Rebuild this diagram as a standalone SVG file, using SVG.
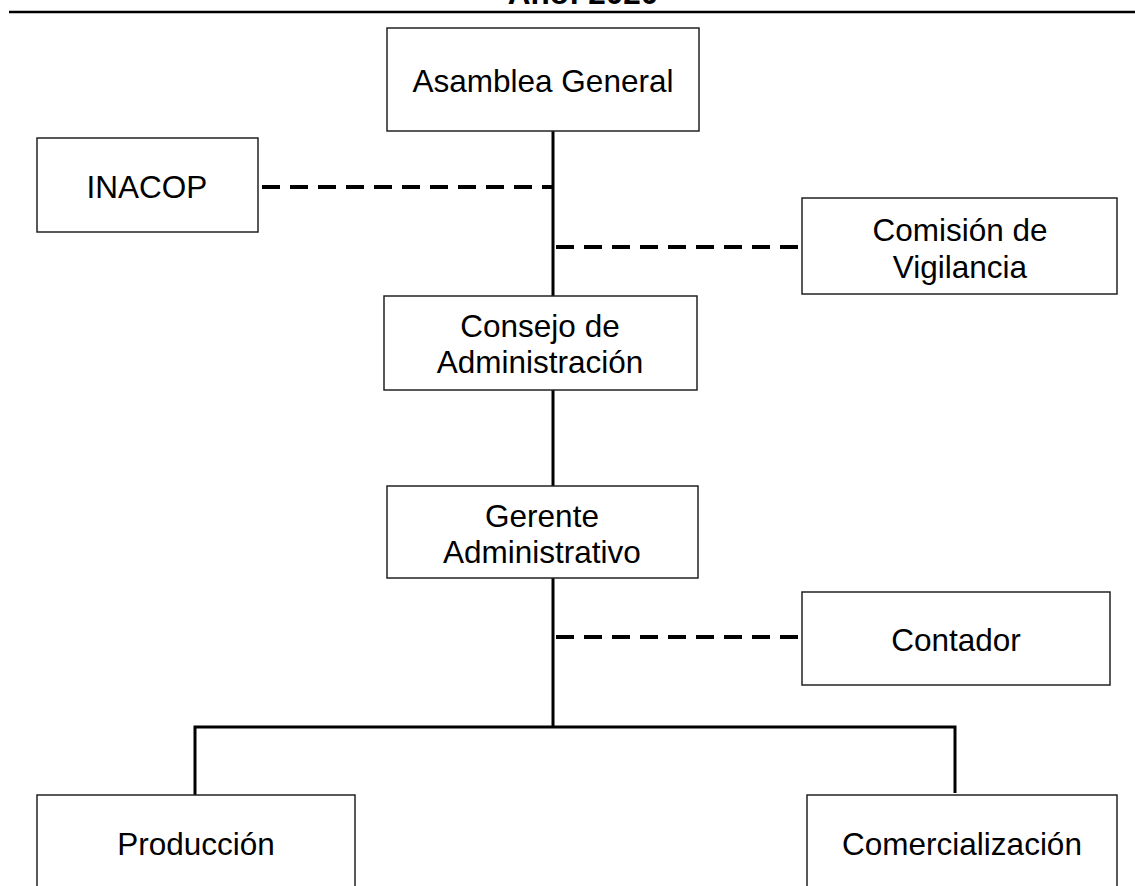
<svg xmlns="http://www.w3.org/2000/svg" width="1135" height="886" viewBox="0 0 1135 886">
<style>
.box{fill:#fff;stroke:#222;stroke-width:1.5}
.t{font-family:"Liberation Sans",Arial,sans-serif;font-size:31.5px;fill:#000;text-anchor:middle}
.solid{stroke:#000;stroke-width:3;fill:none}
.dash{stroke:#000;stroke-width:4;stroke-dasharray:18 10;fill:none}
</style>
<rect width="1135" height="886" fill="#fff"/>
<g id="title">
<text x="583" y="4" class="t" style="font-weight:bold">Año: 2020</text>
<line x1="9" y1="12" x2="1135" y2="12" stroke="#000" stroke-width="2.5"/>
</g>
<g id="connectors">
<line class="solid" x1="553" y1="131" x2="553" y2="728"/>
<line class="dash" x1="262" y1="187" x2="553" y2="187"/>
<line class="dash" x1="556" y1="247" x2="802" y2="247"/>
<line class="dash" x1="556" y1="637" x2="802" y2="637"/>
<polyline class="solid" points="195,795 195,727 955,727 955,793"/>
</g>
<g id="asamblea">
<rect class="box" x="387" y="28" width="312" height="103"/>
<text class="t" x="543" y="92">Asamblea General</text>
</g>
<g id="inacop">
<rect class="box" x="37" y="138" width="221" height="94"/>
<text class="t" x="147" y="198">INACOP</text>
</g>
<g id="comision">
<rect class="box" x="802" y="198" width="315" height="96"/>
<text class="t" x="960" y="241">Comisión de</text>
<text class="t" x="960" y="278">Vigilancia</text>
</g>
<g id="consejo">
<rect class="box" x="384" y="296" width="313" height="94"/>
<text class="t" x="540" y="337">Consejo de</text>
<text class="t" x="540" y="373">Administración</text>
</g>
<g id="gerente">
<rect class="box" x="387" y="486" width="311" height="92"/>
<text class="t" x="542" y="527">Gerente</text>
<text class="t" x="542" y="563">Administrativo</text>
</g>
<g id="contador">
<rect class="box" x="802" y="592" width="308" height="93"/>
<text class="t" x="956" y="651">Contador</text>
</g>
<g id="produccion">
<rect class="box" x="37" y="795" width="318" height="120"/>
<text class="t" x="196" y="855">Producción</text>
</g>
<g id="comercializacion">
<rect class="box" x="807" y="795" width="310" height="120"/>
<text class="t" x="962" y="855">Comercialización</text>
</g>
</svg>
